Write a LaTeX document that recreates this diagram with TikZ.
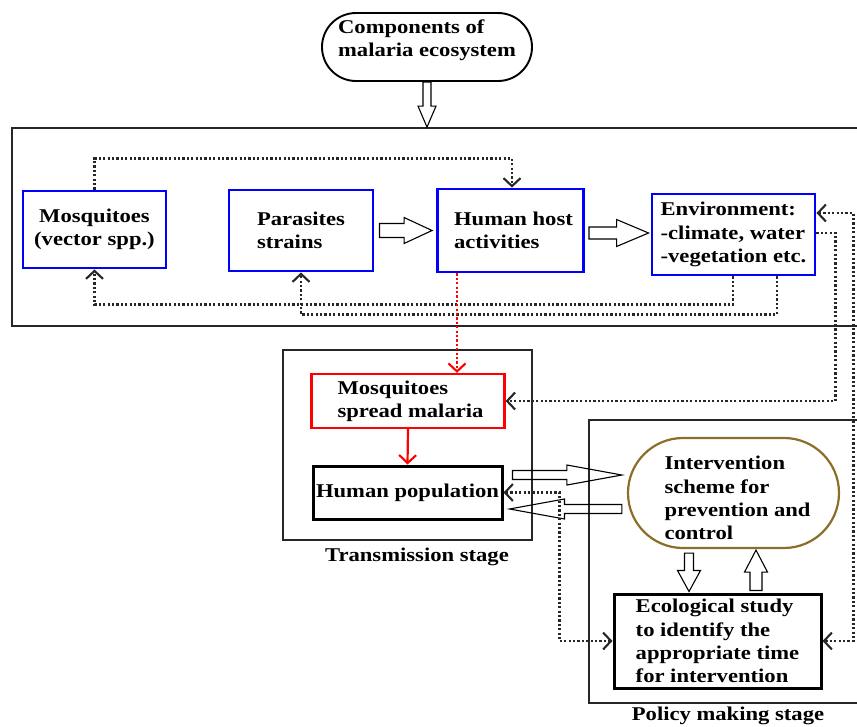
\documentclass[tikz,border=0pt]{standalone}
\usepackage{fontspec}
\setmainfont{Liberation Serif}[FakeStretch=1.16]
\usetikzlibrary{arrows.meta,calc,shapes.misc}
\definecolor{goldbrown}{RGB}{139,110,40}
\tikzset{
  chev/.tip={Straight Barb[length=8pt,width=17pt,line width=2.1pt]},
  bx/.style={rectangle, inner sep=0pt, align=left},
  bluebox/.style={bx, draw=blue, line width=2.9pt},
  redbox/.style={bx, draw=red, line width=2.3pt},
  blackbox/.style={bx, draw=black, line width=3pt},
  stagebox/.style={rectangle, draw=black!85, line width=1.3pt, inner sep=0pt},
  pill/.style={rounded rectangle, inner sep=0pt, align=left},
  dotline/.style={draw=black!85, line width=2.3pt, dash pattern=on 2.2pt off 2.2pt},
  reddot/.style={draw=red, line width=2.3pt, dash pattern=on 2.2pt off 2.2pt},
  blk/.style n args={3}{draw=black, line width=1.1pt,
    to path={let \p1=(\tikztostart), \p2=(\tikztotarget),
      \n1={atan2(\y2-\y1,\x2-\x1)}, \n2={veclen(\x2-\x1,\y2-\y1)}, \n3={\n2-#3} in
      ($(\p1)+(\n1+90:#1pt)$)
      -- ($(\p1)+(\n1:\n3)+(\n1+90:#1pt)$)
      -- ($(\p1)+(\n1:\n3)+(\n1+90:#2pt)$)
      -- (\p2)
      -- ($(\p1)+(\n1:\n3)+(\n1-90:#2pt)$)
      -- ($(\p1)+(\n1:\n3)+(\n1-90:#1pt)$)
      -- ($(\p1)+(\n1-90:#1pt)$) -- cycle}}
}
\begin{document}
\begin{tikzpicture}[x=1pt,y=-1pt,font=\fontsize{19.5}{23.3}\selectfont\bfseries]
\useasboundingbox (0,0) rectangle (857,726);

% stage frames
\node[stagebox, line width=1.8pt, minimum width=848pt, minimum height=198pt] (ecobox) at (436,227) {};
\node[stagebox, minimum width=249pt, minimum height=190pt] (trans) at (407.5,445) {};
\node[anchor=base, inner sep=0pt] (translbl) at (417,561) {Transmission stage};
\node[stagebox, minimum width=290pt, minimum height=283pt] (policy) at (734,561.5) {};
\node[anchor=base, inner sep=0pt] (pollbl) at (728,720.5) {Policy making stage};

% nodes
\node[pill, draw=black, line width=1.9pt, minimum width=210pt, minimum height=68pt] (comp) at (427,47) {Components of\\malaria ecosystem\\[-6pt]\mbox{}};
\node[bluebox, align=center, minimum width=143pt, minimum height=77pt] (mosq) at (94.5,229.5) {Mosquitoes\\(vector spp.)};
\node[bluebox, minimum width=144pt, minimum height=81pt] (para) at (301,230.5) {Parasites\\strains};
\node[bluebox, minimum width=146pt, minimum height=83pt] (host) at (510.5,230.5) {\hspace*{6pt}Human host\\\hspace*{6pt}activities};
\node[bluebox, minimum width=163pt, minimum height=81pt] (env) at (733.5,234.5) {Environment:\\-climate, water\\-vegetation etc.};
\node[redbox, minimum width=193pt, minimum height=54pt] (spread) at (408,401) {\hspace*{5pt}Mosquitoes\\\hspace*{5pt}spread malaria};
\node[blackbox, minimum width=189pt, minimum height=53pt] (pop) at (407.5,492.5) {Human population};
\node[pill, draw=goldbrown, line width=2.2pt, minimum width=211pt, minimum height=110pt] (interv) at (733.5,493) {\hspace*{8pt}\rule{0pt}{24pt}Intervention\\\hspace*{8pt}scheme for\\\hspace*{8pt}prevention and\\\hspace*{8pt}control};
\node[blackbox, minimum width=207pt, minimum height=94pt] (ecol) at (717.5,641) {Ecological study\\to identify the\\appropriate time\\for intervention};

% block arrows
\draw[blk={4}{9}{21}] (comp.south) to (comp.south |- ecobox.north);
\draw[blk={7}{13}{28}] ($(para.east)+(5,0)$) to ($(host.west)+(-4,0)$);
\draw[blk={6}{13.5}{32}] ($(host.east)+(4,2.5)$) to ($(host.east -| env.west)+(-2,2.5)$);
\draw[blk={4.5}{10}{55}] ($(pop.east)+(9,-17.5)$) to ($(interv.west)+(-5,-18)$);
\draw[blk={4.5}{10}{55}] ($(interv.west)+(-5,16)$) to ($(pop.east)+(6,16.5)$);
\draw[blk={4.5}{11.5}{21}] ($(interv.south)+(-44.5,4)$) to ($(ecol.north)+(-28.5,-1)$);
\draw[blk={6}{11.5}{22}] ($(ecol.north)+(38.5,-2)$) to ($(interv.south)+(22.5,1)$);

% dotted connectors
\draw[dotline, -chev] (mosq.north) -- ++(0,-31) -| ($(host.north)+(1.5,0)$);
\draw[dotline, -chev] ($(env.south)+(-0.5,0)$) -- ++(0,28) -| (mosq.south);
\draw[dotline, -chev] ($(env.south)+(43.5,0)$) -- ++(0,38) -| (para.south);
\draw[dotline, -chev] ($(env.east)+(0,-1.5)$) -- ++(19,0) |- (spread.east);
\draw[dotline, chev-chev] ($(env.east)+(0,-21.5)$) -- ++(37,0) |- (ecol.east);
\draw[dotline, chev-chev] (pop.east) -- ++(56,0) |- (ecol.west);

% red connectors
\draw[reddot, -chev] ($(host.south)+(-53.5,0)$) -- ($(spread.north)+(49,0)$);
\draw[red, line width=2.2pt, -chev] (spread.south) -- (pop.north);
\end{tikzpicture}
\end{document}
